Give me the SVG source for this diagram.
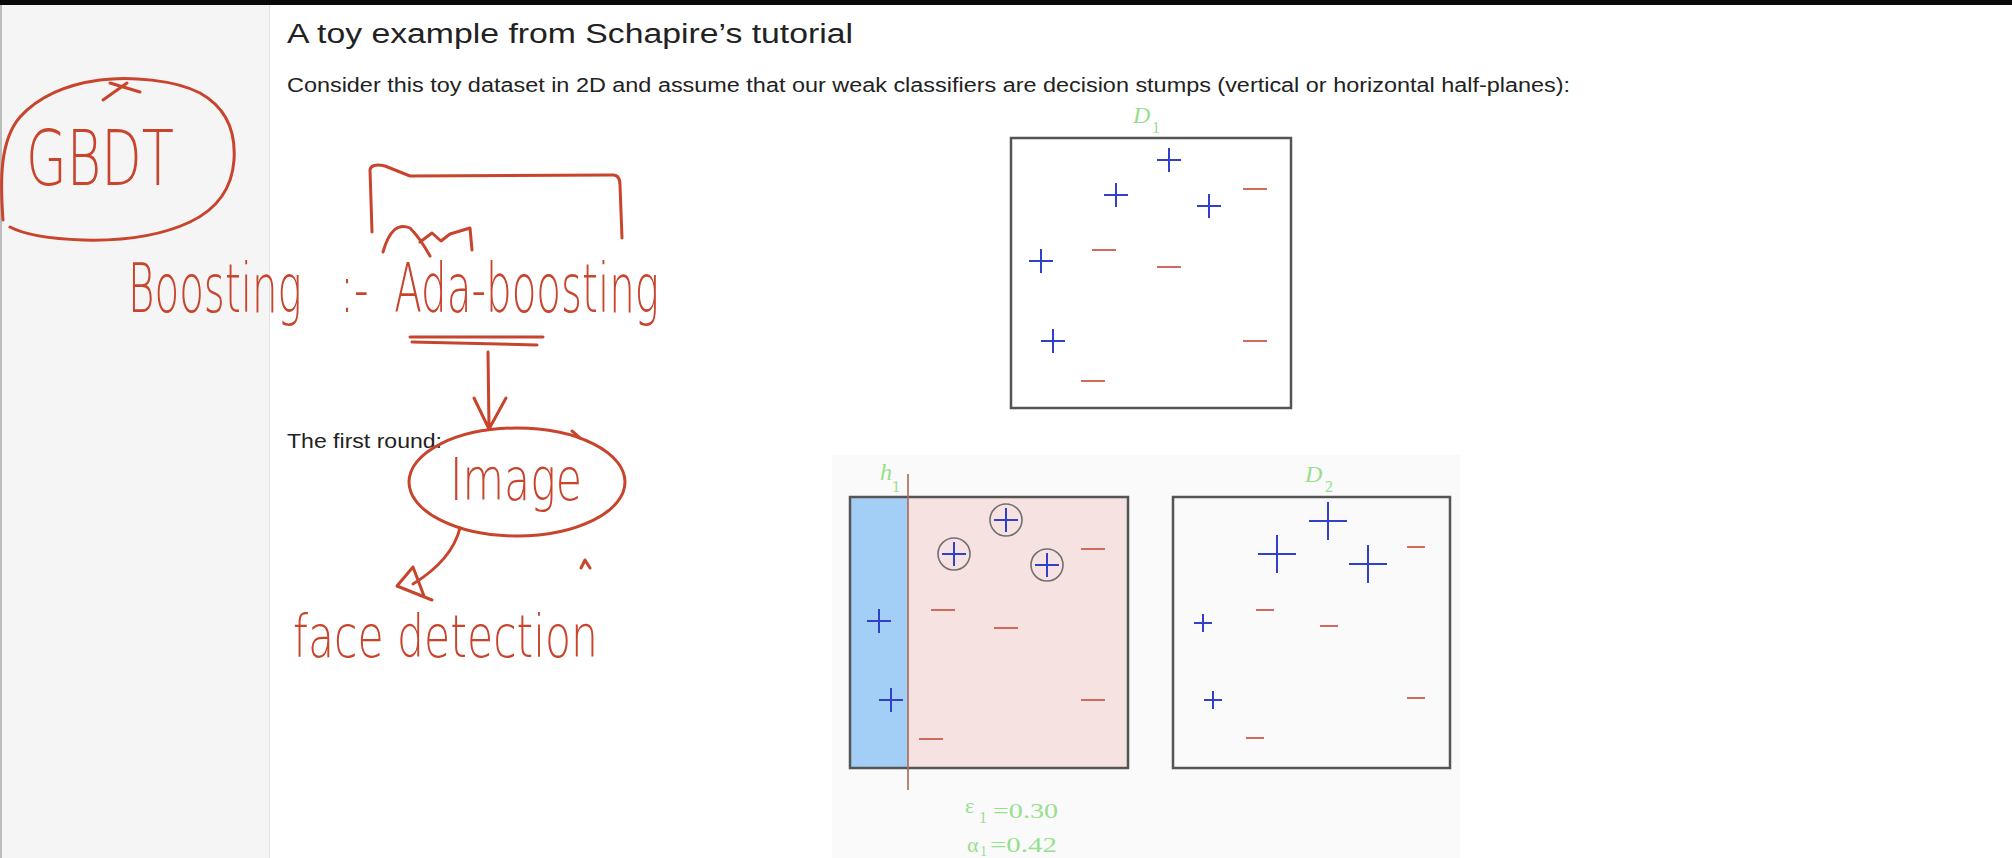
<svg xmlns="http://www.w3.org/2000/svg" width="2012" height="858" viewBox="0 0 2012 858">
<style>
.slide{font-family:"Liberation Sans",Arial,sans-serif;fill:#222}
.hw{font-family:"DejaVu Sans",sans-serif;font-weight:200;fill:#c8442c}
.pen{fill:none;stroke:#c8442c;stroke-width:3;stroke-linecap:round;stroke-linejoin:round}
.box{fill:none;stroke:#555;stroke-width:2.5}
.pos{stroke:#3040c8;stroke-width:2;fill:none}
.neg{stroke:#d06a5c;stroke-width:2.2;fill:none}
.ring{fill:none;stroke:#707070;stroke-width:1.6}
.lbl{font-family:"Liberation Serif",serif;font-style:italic;fill:#96e08e}
.num{font-family:"Liberation Serif",serif;fill:#96e08e}
</style>
<rect x="0" y="0" width="2012" height="858" fill="#ffffff"/>
<rect x="0" y="0" width="269" height="858" fill="#f5f5f5"/>
<line x1="269.5" y1="0" x2="269.5" y2="858" stroke="#e2e2e2" stroke-width="1"/>
<line x1="1" y1="0" x2="1" y2="858" stroke="#bdbdbd" stroke-width="2"/>
<rect x="0" y="0" width="2012" height="5" fill="#0a0a0a"/>
<rect x="832" y="455" width="628" height="403" fill="#fafafa"/>

<g id="slide-text">
<text class="slide" x="287" y="43" font-size="27" textLength="566" lengthAdjust="spacingAndGlyphs">A toy example from Schapire’s tutorial</text>
<text class="slide" x="287" y="92" font-size="20" textLength="1283" lengthAdjust="spacingAndGlyphs">Consider this toy dataset in 2D and assume that our weak classifiers are decision stumps (vertical or horizontal half-planes):</text>
<text class="slide" x="287" y="448" font-size="20" textLength="155" lengthAdjust="spacingAndGlyphs">The first round:</text>
</g>

<g id="plot-d1">
<text class="lbl" x="1133" y="123" font-size="24">D</text><text class="num" x="1152" y="133" font-size="16">1</text>
<rect class="box" x="1011" y="138" width="280" height="270"/>
<path class="pos" d="M1157 160H1181M1169 148V172M1104 195H1128M1116 183V207M1197 206H1221M1209 194V218M1029 261H1053M1041 249V273M1041 341H1065M1053 329V353"/>
<path class="neg" d="M1243 189H1267M1092 250H1116M1157 267H1181M1243 341H1267M1081 381H1105"/>
</g>

<g id="plot-h1">
<rect x="850" y="497" width="58" height="271" fill="#a3cef5"/>
<rect x="908" y="497" width="220" height="271" fill="#f6e2e1"/>
<rect class="box" x="850" y="497" width="278" height="271"/>
<line x1="908" y1="474" x2="908" y2="790" stroke="#a86a58" stroke-width="1.6"/>
<text class="lbl" x="880" y="480" font-size="24">h</text><text class="num" x="892" y="492" font-size="16">1</text>
<circle class="ring" cx="1006" cy="520" r="16"/>
<circle class="ring" cx="954" cy="554" r="16"/>
<circle class="ring" cx="1047" cy="565" r="16"/>
<path class="pos" d="M867 621H891M879 609V633M879 700H903M891 688V712M994 520H1018M1006 508V532M942 554H966M954 542V566M1035 565H1059M1047 553V577"/>
<path class="neg" d="M1081 549H1105M931 610H955M994 628H1018M1081 700H1105M919 739H943"/>
<text class="num" x="965" y="813" font-size="22">ε</text><text class="num" x="979" y="823" font-size="16">1</text>
<text class="num" x="993" y="818" font-size="22" textLength="65" lengthAdjust="spacingAndGlyphs">=0.30</text>
<text class="num" x="967" y="852" font-size="22">α</text><text class="num" x="980" y="856" font-size="14">1</text>
<text class="num" x="990" y="852" font-size="22" textLength="67" lengthAdjust="spacingAndGlyphs">=0.42</text>
</g>

<g id="plot-d2">
<text class="lbl" x="1305" y="482" font-size="24">D</text><text class="num" x="1325" y="492" font-size="16">2</text>
<rect class="box" x="1173" y="497" width="277" height="271"/>
<path class="pos" d="M1309 521H1347M1328 502V540M1258 554H1296M1277 535V573M1349 564H1387M1368 545V583M1194 623H1212M1203 614V632M1204 700H1222M1213 691V709"/>
<path class="neg" d="M1407 547H1425M1256 610H1274M1320 626H1338M1407 698H1425M1246 738H1264"/>
</g>

<g id="node-gbdt">
<path class="pen" d="M3 220 C0 180 0 140 20 117 C40 95 70 84 100 80 C130 76 175 80 200 93 C225 107 236 130 234 160 C232 190 215 210 190 222 C160 236 120 241 83 240 C55 239 25 235 10 227"/>
<path class="pen" d="M103 100 L127 83 M110 83 L140 92"/>
<text class="hw" x="26" y="185" font-size="76" textLength="148" lengthAdjust="spacingAndGlyphs">GBDT</text>
</g>

<g id="node-boosting-adaboosting">
<path class="pen" d="M372 232 L370 170 Q371 163 385 166 L410 176 L613 175 Q620 175 620 185 L622 238"/>
<path class="pen" d="M383 252 Q392 220 410 228 Q420 238 430 256 M420 242 L432 233 L441 241 L450 234 L470 228 L472 250"/>
<text class="hw" x="128" y="312" font-size="68" textLength="531" lengthAdjust="spacingAndGlyphs">Boosting&#160;&#160;&#160;:-&#160;&#160;Ada-boosting</text>
<path class="pen" d="M410 337 L543 337 M412 342 L537 345"/>
</g>

<g id="node-image">
<ellipse class="pen" cx="517" cy="482" rx="108" ry="54"/>
<path class="pen" d="M572 431 L580 438"/>
<text class="hw" x="450" y="500" font-size="58" textLength="132" lengthAdjust="spacingAndGlyphs">Image</text>
</g>

<g id="node-face">
<text class="hw" x="293" y="657" font-size="58" textLength="305" lengthAdjust="spacingAndGlyphs">face detection</text>
<path class="pen" d="M581 568 L585 560 L590 568"/>
</g>

<g id="connectors">
<path class="pen" d="M488 352 L489 428 M474 398 L489 429 L506 398"/>
<path class="pen" d="M460 528 Q452 560 413 584 M413 567 L397 586 L432 600 M413 567 L424 596"/>
</g>
</svg>
